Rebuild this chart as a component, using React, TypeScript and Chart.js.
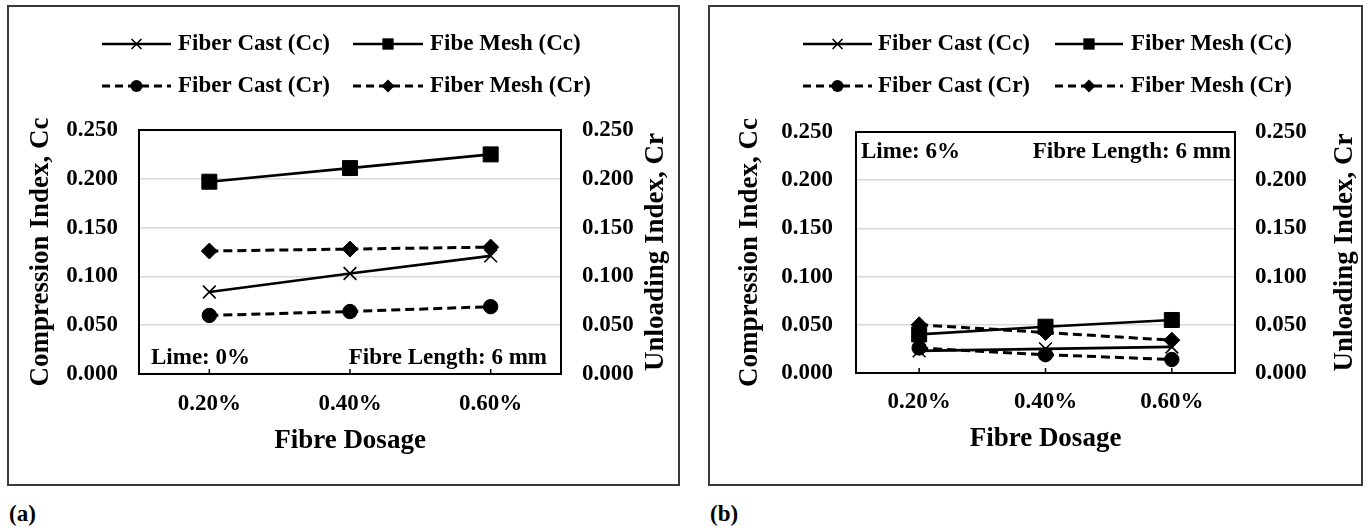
import React, { useEffect, useRef } from 'react';
import { Chart, registerables } from 'chart.js';

Chart.register(...registerables);

// ---------- data ----------
const categories = ['0.20%', '0.40%', '0.60%'];
const namesA = ['Fiber Cast (Cc)', 'Fibe Mesh (Cc)', 'Fiber Cast (Cr)', 'Fiber Mesh (Cr)'];
const namesB = ['Fiber Cast (Cc)', 'Fiber Mesh (Cc)', 'Fiber Cast (Cr)', 'Fiber Mesh (Cr)'];

const castCcA = [0.084, 0.103, 0.121];
const meshCcA = [0.197, 0.211, 0.225];
const castCrA = [0.060, 0.064, 0.069];
const meshCrA = [0.126, 0.128, 0.130];

const castCcB = [0.023, 0.025, 0.027];
const meshCcB = [0.040, 0.048, 0.055];
const castCrB = [0.026, 0.019, 0.014];
const meshCrB = [0.050, 0.042, 0.034];

const xTitle = 'Fibre Dosage';
const yLeftTitle = 'Compression Index, Cc';
const yRightTitle = 'Unloading Index, Cr';
const notesA = ['Lime: 0%', 'Fibre Length: 6 mm'];
const notesB = ['Lime: 6%', 'Fibre Length: 6 mm'];
const panelTags = ['(a)', '(b)'];
const axisMin = 0;
const axisMax = 0.25;
const axisStep = 0.05;

// ---------- styles ----------
const FONT = "'Liberation Serif', 'Times New Roman', serif";
const styles = [
  { pointStyle: 'crossRot', radius: 9, legendR: 7, dash: [] as number[], width: 2.7, pbw: 1.6 },
  { pointStyle: 'rect', radius: 10.6, legendR: 8, dash: [] as number[], width: 2.7, pbw: 1 },
  { pointStyle: 'circle', radius: 7.2, legendR: 6, dash: [9, 5], width: 3, pbw: 1 },
  { pointStyle: 'rectRot', radius: 8, legendR: 6.5, dash: [9, 5], width: 3, pbw: 1 },
];

type Layout = {
  box: { x: number; y: number; w: number; h: number };
  area: { l: number; t: number; r: number; b: number };
  leftTitleX: number;
  rightTitleX: number;
  xTitleY: number;
  xTickY: number;
  gapL: number;
  gapR: number;
  cols: number[][];
  rows: number[];
  noteL: { x: number; y: number };
  noteR: { x: number; y: number };
};

const layoutA: Layout = {
  box: { x: 7, y: 5, w: 673, h: 481 },
  area: { l: 139, t: 130, r: 561, b: 374 },
  leftTitleX: 41,
  rightTitleX: 656,
  xTitleY: 441,
  xTickY: 404,
  gapL: 21,
  gapR: 21,
  cols: [[102, 171, 178], [353, 423, 430]],
  rows: [44, 86],
  noteL: { x: 151, y: 358 },
  noteR: { x: 547, y: 358 },
};

const layoutB: Layout = {
  box: { x: 708, y: 5, w: 655, h: 481 },
  area: { l: 856, t: 132, r: 1235, b: 373 },
  leftTitleX: 750,
  rightTitleX: 1345,
  xTitleY: 439,
  xTickY: 402,
  gapL: 23,
  gapR: 20,
  cols: [[803, 872, 878], [1055, 1123, 1131]],
  rows: [44, 86],
  noteL: { x: 861, y: 152 },
  noteR: { x: 1231, y: 152 },
};

const fnt = (size: number) => ({ family: FONT, size, weight: 'bold' as const, lineHeight: 1.2 });

function drawMarker(ctx: CanvasRenderingContext2D, style: string, x: number, y: number, r: number) {
  ctx.save();
  ctx.fillStyle = '#000';
  ctx.strokeStyle = '#000';
  ctx.setLineDash([]);
  ctx.beginPath();
  if (style === 'crossRot') {
    const d = r * Math.SQRT1_2;
    ctx.lineWidth = 1.6;
    ctx.moveTo(x - d, y - d);
    ctx.lineTo(x + d, y + d);
    ctx.moveTo(x + d, y - d);
    ctx.lineTo(x - d, y + d);
    ctx.stroke();
  } else if (style === 'rect') {
    const s = r * Math.SQRT1_2;
    ctx.rect(x - s, y - s, 2 * s, 2 * s);
    ctx.fill();
  } else if (style === 'circle') {
    ctx.arc(x, y, r, 0, Math.PI * 2);
    ctx.fill();
  } else {
    ctx.moveTo(x - r, y);
    ctx.lineTo(x, y - r);
    ctx.lineTo(x + r, y);
    ctx.lineTo(x, y + r);
    ctx.closePath();
    ctx.fill();
  }
  ctx.restore();
}

function Panel({ layout, names, series, notes }: { layout: Layout; names: string[]; series: number[][]; notes: string[] }) {
  const ref = useRef<HTMLCanvasElement | null>(null);
  const L = layout;
  useEffect(() => {
    const canvas = ref.current;
    if (!canvas) return;
    const bx = L.box.x;
    const by = L.box.y;
    const W = L.box.w;
    const H = L.box.h;
    const ca = { l: L.area.l - bx, t: L.area.t - by, r: L.area.r - bx, b: L.area.b - by };
    const titleHalf = 27 * 1.2 / 2;
    const tickHalf = 23 * 1.2 / 2;

    const datasets = series.map((vals, i) => {
      const s = styles[i];
      return {
        label: names[i],
        data: vals,
        yAxisID: i < 2 ? 'y' : 'y1',
        borderColor: '#000',
        backgroundColor: '#000',
        borderWidth: s.width,
        borderDash: s.dash,
        pointStyle: s.pointStyle,
        pointRadius: s.radius,
        pointHoverRadius: s.radius,
        pointBackgroundColor: '#000',
        pointBorderColor: '#000',
        pointBorderWidth: s.pbw,
        tension: 0,
        fill: false,
        clip: false,
      };
    });

    const decor = {
      id: 'decor',
      beforeDatasetsDraw(chart: any) {
        const { ctx, chartArea: a } = chart;
        ctx.save();
        ctx.strokeStyle = '#000';
        ctx.lineWidth = 2;
        ctx.setLineDash([]);
        ctx.strokeRect(a.left, a.top, a.right - a.left, a.bottom - a.top);
        const xs = chart.scales.x;
        ctx.lineWidth = 1.5;
        for (let i = 0; i < chart.data.labels.length; i++) {
          const px = xs.getPixelForValue(i);
          ctx.beginPath();
          ctx.moveTo(px, a.bottom);
          ctx.lineTo(px, a.bottom - 5);
          ctx.stroke();
        }
        ctx.restore();
      },
      afterDraw(chart: any) {
        const { ctx, chartArea: a } = chart;
        ctx.save();
        // panel border
        ctx.strokeStyle = '#3a3a3a';
        ctx.lineWidth = 2;
        ctx.setLineDash([]);
        ctx.strokeRect(1, 1, W - 2, H - 2);
        // right axis title (reads bottom to top, like the left one)
        ctx.save();
        ctx.font = `bold 27px ${FONT}`;
        ctx.fillStyle = '#000';
        ctx.textAlign = 'center';
        ctx.textBaseline = 'middle';
        ctx.translate(L.rightTitleX - bx, (a.top + a.bottom) / 2);
        ctx.rotate(-Math.PI / 2);
        ctx.fillText(yRightTitle, 0, 0);
        ctx.restore();
        // legend
        ctx.font = `bold 23px ${FONT}`;
        ctx.textBaseline = 'middle';
        ctx.textAlign = 'left';
        ctx.fillStyle = '#000';
        chart.data.datasets.forEach((ds: any, i: number) => {
          const col = L.cols[i % 2];
          const y = L.rows[Math.floor(i / 2)] - by;
          const x0 = col[0] - bx;
          const x1 = col[1] - bx;
          const tx = col[2] - bx;
          const s = styles[i];
          ctx.save();
          ctx.strokeStyle = '#000';
          ctx.lineWidth = s.width;
          ctx.setLineDash(s.dash.length ? [8, 5] : []);
          ctx.beginPath();
          ctx.moveTo(x0, y);
          ctx.lineTo(x1, y);
          ctx.stroke();
          ctx.restore();
          drawMarker(ctx, s.pointStyle, (x0 + x1) / 2, y, s.legendR);
          ctx.fillStyle = '#000';
          ctx.fillText(ds.label, tx, y);
        });
        // notes
        ctx.textAlign = 'left';
        ctx.fillText(notes[0], L.noteL.x - bx, L.noteL.y - by);
        ctx.textAlign = 'right';
        ctx.fillText(notes[1], L.noteR.x - bx, L.noteR.y - by);
        ctx.restore();
      },
    };

    const fmt = (v: any) => Number(v).toFixed(3);

    const chart = new Chart(canvas, {
      type: 'line',
      data: { labels: categories, datasets: datasets as any },
      options: {
        responsive: false,
        maintainAspectRatio: false,
        animation: false,
        devicePixelRatio: 1,
        events: [],
        layout: { padding: { left: 0, right: 0, top: ca.t, bottom: 0 }, autoPadding: false } as any,
        plugins: { legend: { display: false }, tooltip: { enabled: false }, title: { display: false } },
        scales: {
          x: {
            type: 'category',
            offset: true,
            grid: { display: false, drawTicks: false },
            border: { display: false },
            ticks: { font: fnt(23), color: '#000', padding: L.xTickY - L.area.b - tickHalf, maxRotation: 0, autoSkip: false },
            title: {
              display: true,
              text: xTitle,
              font: fnt(27),
              color: '#000',
              padding: { top: 0, bottom: (L.box.y + L.box.h - L.xTitleY) - titleHalf },
            },
            afterFit: (s: any) => {
              s.height = H - ca.b;
            },
          },
          y: {
            position: 'left',
            min: axisMin,
            max: axisMax,
            ticks: { stepSize: axisStep, callback: fmt, font: fnt(23), color: '#000', padding: L.gapL },
            grid: { color: '#d9d9d9', lineWidth: 1.5, drawTicks: false },
            border: { display: false },
            title: {
              display: true,
              text: yLeftTitle,
              font: fnt(27),
              color: '#000',
              padding: { top: (L.leftTitleX - bx) - titleHalf, bottom: 0 },
            },
            afterFit: (s: any) => {
              s.width = ca.l;
            },
          },
          y1: {
            position: 'right',
            min: axisMin,
            max: axisMax,
            ticks: { stepSize: axisStep, callback: fmt, font: fnt(23), color: '#000', padding: L.gapR },
            grid: { display: false, drawTicks: false },
            border: { display: false },
            title: { display: false },
            afterFit: (s: any) => {
              s.width = W - ca.r;
            },
          },
        } as any,
      },
      plugins: [decor],
    });
    return () => chart.destroy();
  }, [L, names, series, notes]);

  return (
    <canvas
      ref={ref}
      width={L.box.w}
      height={L.box.h}
      style={{ position: 'absolute', left: L.box.x, top: L.box.y, width: L.box.w, height: L.box.h }}
    />
  );
}

const seriesA = [castCcA, meshCcA, castCrA, meshCrA];
const seriesB = [castCcB, meshCcB, castCrB, meshCrB];

export default function App() {
  const tagStyle: React.CSSProperties = {
    position: 'absolute',
    top: 500,
    fontFamily: FONT,
    fontWeight: 'bold',
    fontSize: 23,
    lineHeight: '27px',
    color: '#000',
  };
  return (
    <div style={{ position: 'absolute', left: 0, top: 0, width: 1369, height: 528, background: '#fff', overflow: 'hidden' }}>
      <Panel layout={layoutA} names={namesA} series={seriesA} notes={notesA} />
      <Panel layout={layoutB} names={namesB} series={seriesB} notes={notesB} />
      <div style={{ ...tagStyle, left: 9 }}>{panelTags[0]}</div>
      <div style={{ ...tagStyle, left: 710 }}>{panelTags[1]}</div>
    </div>
  );
}
